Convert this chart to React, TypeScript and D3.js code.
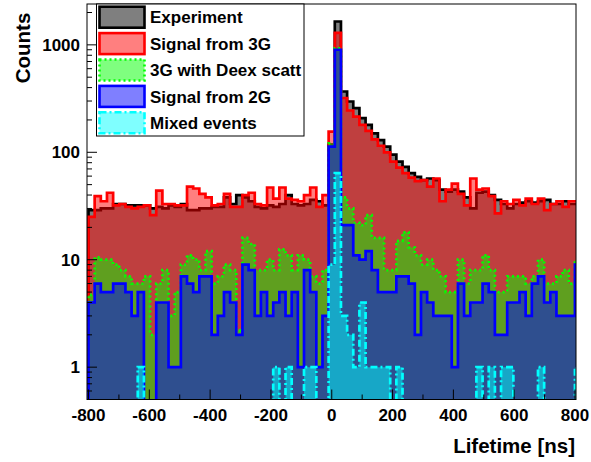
import React from 'react';
import * as d3 from 'd3';

// histogram binning (ns)
const binStart = -800;
const binWidth = 20.25;

const experiment = [
  29, 29, 30, 30, 33, 33, 32, 32, 32, 32, 30, 31, 30, 32, 31, 33, 29, 29, 30, 30,
  31, 31, 38, 33, 40, 38, 35, 31, 30, 32, 31, 33, 40, 33, 32, 33, 36, 35, 32, 118,
  1650, 368, 297, 258, 208, 180, 150, 130, 113, 95, 82, 73, 64, 59, 55, 57, 55, 45, 43, 45,
  43, 38, 30, 42, 43, 40, 36, 33, 30, 33, 34, 35, 34, 35, 36, 33, 33, 35, 33, 33
];
const signal3G = [
  25, 39, 35, 42, 32, 33, 31, 30, 31, 32, 26, 44, 33, 33, 32, 32, 48, 46, 41, 38,
  32, 33, 41, 31, 31, 40, 42, 33, 32, 47, 37, 47, 37, 36, 35, 40, 47, 31, 40, 156,
  1290, 320, 245, 215, 180, 158, 132, 115, 100, 82, 72, 64, 58, 54, 55, 48, 57, 35, 45, 51,
  41, 32, 57, 45, 46, 39, 27, 35, 33, 36, 32, 37, 33, 37, 29, 33, 35, 31, 35, 35
];
const deexScatt = [
  4.7, 10.5, 10, 10, 9, 8, 7, 6, 6, 7, 2, 6, 8, 3, 5, 9, 11, 10, 8, 12,
  6, 7, 9, 8, 2.2, 16, 14, 8, 8, 10, 8, 12.5, 11, 8, 11, 10, 7, 6, 8, 121,
  930, 38, 30, 22, 21, 26, 16, 16, 8, 8, 15, 18, 13, 11, 9, 10, 8, 7, 5, 5,
  10, 6, 8, 8, 11, 8, 5, 5, 7, 7, 7, 6, 7, 10, 6, 6, 7, 8, 6, 10
];
const signal2G = [
  4, 6, 5, 5, 6, 6, 5, 3, 5, 0, 0, 4, 4, 1, 1, 7, 6, 5, 7, 7,
  2, 3, 5, 4, 2, 9, 8, 3, 5, 3, 4, 5, 3, 5, 1, 8, 5, 1, 3, 113,
  900, 21, 21, 11, 10, 12, 8, 5, 5, 5, 7, 7, 6, 2, 5, 4, 3, 3, 3, 1,
  6, 3, 4, 4, 6, 5, 2, 2, 4, 4, 5, 3, 6, 7, 4, 5, 3, 3, 3, 9
];
const mixedEvents = [
  0, 0, 0, 0, 0, 0, 0, 0, 1, 0, 0, 0, 0, 0, 0, 0, 0, 0, 0, 0,
  0, 0, 0, 0, 0, 0, 0, 0, 0, 0, 1, 0, 1, 0, 0, 1, 1, 0, 0, 9,
  64, 3, 2, 1, 4, 1, 1, 1, 1, 0, 1, 0, 0, 0, 0, 0, 0, 0, 0, 0,
  0, 0, 0, 1, 0, 1, 0, 1, 1, 0, 0, 0, 0, 1, 0, 0, 0, 0, 0, 1
];

const legendLabels = ['Experiment', 'Signal from 3G', '3G with Deex scatt', 'Signal from 2G', 'Mixed events'];
const xTickValues = [-800, -600, -400, -200, 0, 200, 400, 600, 800];
const yTickValues = [1, 10, 100, 1000];

const font = "'Liberation Sans', Arial, sans-serif";

export default function App() {
  const width = 591, height = 462;
  const left = 87, right = 576, top = 4, bottom = 399.5;

  const x = d3.scaleLinear().domain([-800, 800]).range([88.5, 575]);
  const y = d3.scaleLog().domain([0.5, 2400]).range([bottom, top]);
  const floor = 0.3;

  const styles = [
    { values: experiment, color: '#000000', dash: undefined },
    { values: signal3G, color: '#ff0000', dash: undefined },
    { values: deexScatt, color: '#00ff00', dash: '2 3' },
    { values: signal2G, color: '#0000ff', dash: undefined },
    { values: mixedEvents, color: '#00ffff', dash: '7 3 2 3' },
  ];

  const stepPts = (values: number[]) => {
    const pts: [number, number][] = [[binStart, floor]];
    values.forEach((v, i) => {
      const x0 = binStart + i * binWidth;
      const yv = v > 0 ? v : floor;
      pts.push([x0, yv], [x0 + binWidth, yv]);
    });
    pts.push([binStart + values.length * binWidth, floor]);
    return pts;
  };

  const line = d3.line<[number, number]>().x(d => x(d[0])).y(d => y(d[1]));
  const area = d3.area<[number, number]>().x(d => x(d[0])).y0(y(floor)).y1(d => y(d[1]));

  const yMinor: number[] = [];
  [0.1, 1, 10, 100, 1000].forEach(dec => {
    for (let m = 2; m <= 9; m++) {
      const v = m * dec;
      if (v > 0.5 && v < 2400) yMinor.push(v);
    }
  });
  const xMinor = d3.range(-700, 800, 200);

  const legendTop = 4, legendH = 132, entryH = legendH / legendLabels.length;

  return (
    <svg width={width} height={height} style={{ position: 'absolute', left: 0, top: 0, background: '#fff' }}>
      <defs>
        <clipPath id="plot-clip">
          <rect x={left} y={top} width={right - left} height={bottom - top} />
        </clipPath>
      </defs>
      <rect x={0} y={0} width={width} height={height} fill="#fff" />

      <g clipPath="url(#plot-clip)">
        {styles.map((s, i) => {
          const pts = stepPts(s.values);
          return (
            <g key={i}>
              <path d={area(pts) || ''} fill={s.color} fillOpacity={0.5} />
              <path d={line(pts) || ''} fill="none" stroke={s.color} strokeWidth={2.7}
                strokeDasharray={s.dash} strokeLinejoin="miter" />
            </g>
          );
        })}
      </g>

      {/* axis ticks */}
      <g stroke="#000" strokeWidth={1}>
        {xTickValues.map(t => (
          <line key={'xt' + t} x1={x(t)} x2={x(t)} y1={bottom} y2={bottom - 10} />
        ))}
        {xMinor.map(t => (
          <line key={'xm' + t} x1={x(t)} x2={x(t)} y1={bottom} y2={bottom - 5} />
        ))}
        {yTickValues.map(t => (
          <line key={'yt' + t} x1={left} x2={left + 10} y1={y(t)} y2={y(t)} />
        ))}
        {yMinor.map(t => (
          <line key={'ym' + t} x1={left} x2={left + 5} y1={y(t)} y2={y(t)} />
        ))}
      </g>
      <rect x={left} y={top} width={right - left} height={bottom - top} fill="none" stroke="#000" strokeWidth={1} />

      {/* tick labels */}
      <g fontFamily={font} fontWeight="bold" fontSize={17} fill="#000">
        {xTickValues.map(t => (
          <text key={'xl' + t} x={x(t)} y={421} textAnchor="middle">{t}</text>
        ))}
        {yTickValues.map(t => (
          <text key={'yl' + t} x={80} y={y(t)} dy="0.35em" textAnchor="end">{t}</text>
        ))}
      </g>
      <text x={575} y={453} textAnchor="end" fontFamily={font} fontWeight="bold" fontSize={20.5}>Lifetime [ns]</text>
      <text transform="translate(30,48) rotate(-90)" textAnchor="middle" fontFamily={font} fontWeight="bold" fontSize={20.5}>Counts</text>

      {/* legend */}
      <g>
        <rect x={96.5} y={legendTop} width={207.5} height={legendH} fill="#fff" stroke="#000" strokeWidth={1} />
        {legendLabels.map((label, i) => {
          const cy = legendTop + entryH * (i + 0.5);
          const s = styles[i];
          return (
            <g key={label}>
              <rect x={99.5} y={cy - 10.5} width={45} height={21}
                fill={s.color} fillOpacity={0.5}
                stroke={s.color} strokeWidth={2.6} strokeDasharray={s.dash} />
              <text x={150} y={cy} dy="0.36em" fontFamily={font} fontWeight="bold" fontSize={17}>{label}</text>
            </g>
          );
        })}
      </g>
    </svg>
  );
}
